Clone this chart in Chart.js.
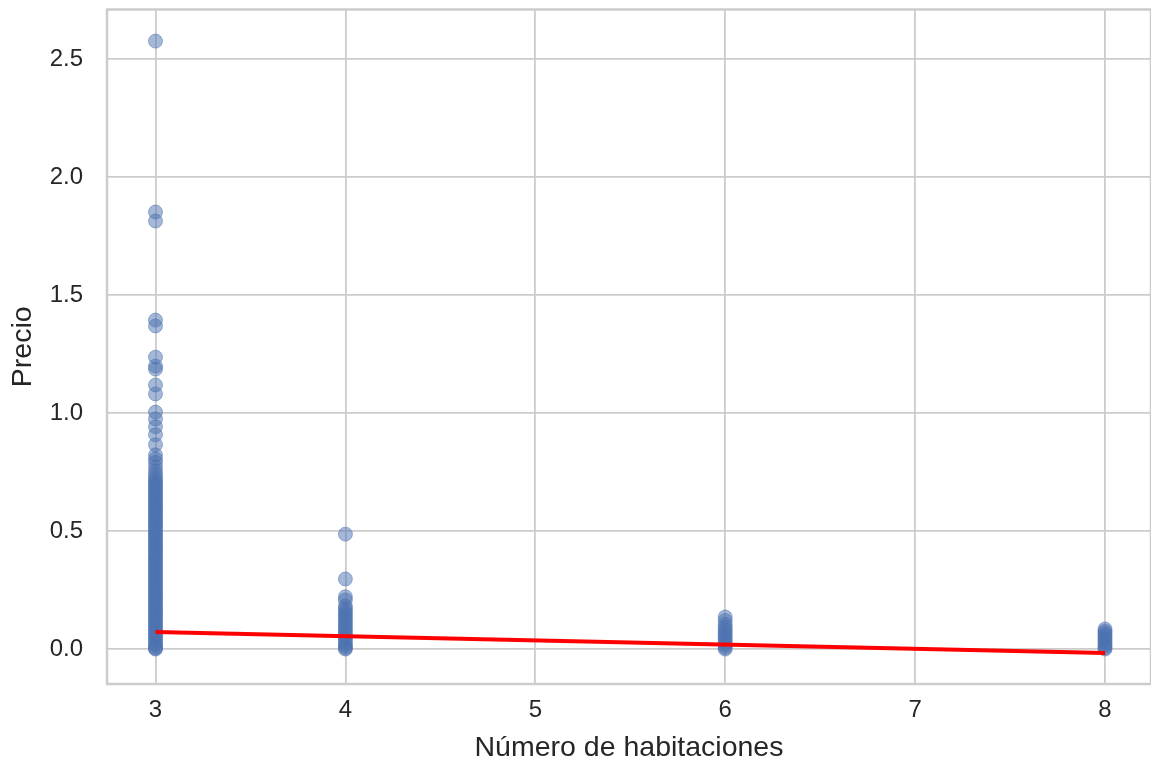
<!DOCTYPE html>
<html>
<head>
<meta charset="utf-8">
<script src="https://cdn.jsdelivr.net/npm/chart.js@4/dist/chart.umd.min.js"></script>
<style>
  html, body { margin: 0; padding: 0; background: #ffffff; overflow: hidden; }
  #wrap { width: 1151px; height: 767px; position: relative; }
  canvas { display: block; }
</style>
</head>
<body>
<div id="wrap"><canvas id="c" width="1151" height="767"></canvas></div>
<script>
// Número de habitaciones (x) y precio observado por vivienda (y)
const rooms = [3, 4, 6, 8];

const precio3 = [
  2.576, 1.852, 1.814, 1.394, 1.369, 1.237, 1.199, 1.186, 1.119, 1.081,
  1.004, 0.975, 0.942, 0.908, 0.866, 0.823, 0.806, 0.791, 0.772, 0.755,
  0.740, 0.727, 0.716, 0.707, 0.698, 0.689, 0.680, 0.671, 0.662, 0.652,
  0.643, 0.634, 0.625, 0.616, 0.606, 0.597, 0.588, 0.579, 0.570, 0.561,
  0.551, 0.542, 0.533, 0.524, 0.515, 0.505, 0.496, 0.487, 0.478, 0.469,
  0.460, 0.450, 0.441, 0.432, 0.423, 0.414, 0.404, 0.395, 0.386, 0.377,
  0.368, 0.358, 0.349, 0.340, 0.331, 0.322, 0.312, 0.303, 0.294, 0.285,
  0.276, 0.266, 0.257, 0.248, 0.239, 0.230, 0.220, 0.211, 0.202, 0.193,
  0.184, 0.175, 0.165, 0.156, 0.147, 0.138, 0.129, 0.119, 0.110, 0.101,
  0.092, 0.083, 0.073, 0.064, 0.055, 0.046, 0.037, 0.027, 0.018, 0.009,
  0.003, 0.000
];
const precio4 = [
  0.487, 0.297, 0.222, 0.208, 0.183, 0.172, 0.161, 0.150, 0.140, 0.129,
  0.118, 0.108, 0.097, 0.086, 0.076, 0.065, 0.054, 0.044, 0.033, 0.022,
  0.012, 0.004, 0.000
];
const precio6 = [
  0.136, 0.121, 0.104, 0.092, 0.081, 0.070, 0.059, 0.048, 0.038, 0.027,
  0.016, 0.006, 0.000
];
const precio8 = [
  0.085, 0.076, 0.067, 0.058, 0.049, 0.040, 0.031, 0.022, 0.013, 0.005,
  0.000
];

// Recta de regresión ajustada
const fitRooms = [3, 8];
const fitPrecio = [0.072, -0.017];

// Marcas de los ejes
const xTicks = [3, 4, 5, 6, 7, 8];
const yTicks = [0.0, 0.5, 1.0, 1.5, 2.0, 2.5];

const preciosPorHabitacion = [precio3, precio4, precio6, precio8];
const scatterPoints = [];
rooms.forEach((r, i) => {
  preciosPorHabitacion[i].forEach(p => scatterPoints.push({ x: r, y: p }));
});
const fitPoints = fitRooms.map((r, i) => ({ x: r, y: fitPrecio[i] }));

const GRID = '#cccccc';
const TEXT = '#262626';
const FONT = '"Liberation Sans", Arial, sans-serif';

// Sin márgenes extra para etiquetas: el área de trazado ocupa su caja fija
function noLabelPadding(s) {
  s.paddingTop = 0;
  s.paddingBottom = 0;
  s.paddingLeft = 0;
  s.paddingRight = 0;
}

// Marco completo alrededor del área de trazado
const framePlugin = {
  id: 'frame',
  afterDatasetsDraw(chart) {
    const { ctx, chartArea: a } = chart;
    ctx.save();
    ctx.strokeStyle = GRID;
    ctx.lineWidth = 2.5;
    ctx.strokeRect(a.left, a.top, a.right - a.left, a.bottom - a.top);
    ctx.restore();
  }
};

new Chart(document.getElementById('c'), {
  type: 'scatter',
  data: {
    datasets: [
      {
        type: 'line',
        label: 'Regresión',
        data: fitPoints,
        borderColor: '#ff0000',
        borderWidth: 4,
        pointRadius: 0,
        fill: false,
        order: 0
      },
      {
        label: 'Precio',
        data: scatterPoints,
        backgroundColor: 'rgba(76,114,176,0.5)',
        borderColor: 'rgba(76,114,176,0.5)',
        borderWidth: 1,
        pointRadius: 7,
        pointHoverRadius: 7,
        order: 1
      }
    ]
  },
  options: {
    responsive: false,
    animation: false,
    events: [],
    layout: { autoPadding: false, padding: { top: 9.5, right: 0, bottom: 0, left: 0 } },
    plugins: {
      legend: { display: false },
      tooltip: { enabled: false }
    },
    scales: {
      x: {
        type: 'linear',
        min: 2.7446,
        max: 8.2422,
        afterFit(s) { s.height = 83; noLabelPadding(s); },
        afterBuildTicks(s) { s.ticks = xTicks.map(v => ({ value: v })); },
        grid: { color: GRID, lineWidth: 1.8, drawTicks: false },
        border: { display: false },
        ticks: {
          padding: 12,
          color: TEXT,
          font: { family: FONT, size: 24 },
          callback: v => String(v)
        },
        title: {
          display: true,
          text: 'Número de habitaciones',
          color: TEXT,
          font: { family: FONT, size: 28.5 },
          padding: { top: 0, bottom: 2 }
        }
      },
      y: {
        type: 'linear',
        min: -0.148,
        max: 2.71,
        afterFit(s) { s.width = 107; noLabelPadding(s); },
        afterBuildTicks(s) { s.ticks = yTicks.map(v => ({ value: v })); },
        grid: { color: GRID, lineWidth: 1.8, drawTicks: false },
        border: { display: false },
        ticks: {
          padding: 24,
          color: TEXT,
          font: { family: FONT, size: 24 },
          callback: v => Number(v).toFixed(1)
        },
        title: {
          display: true,
          text: 'Precio',
          color: TEXT,
          font: { family: FONT, size: 28.5 },
          padding: { top: 6, bottom: 0 }
        }
      }
    }
  },
  plugins: [framePlugin]
});
</script>
</body>
</html>
